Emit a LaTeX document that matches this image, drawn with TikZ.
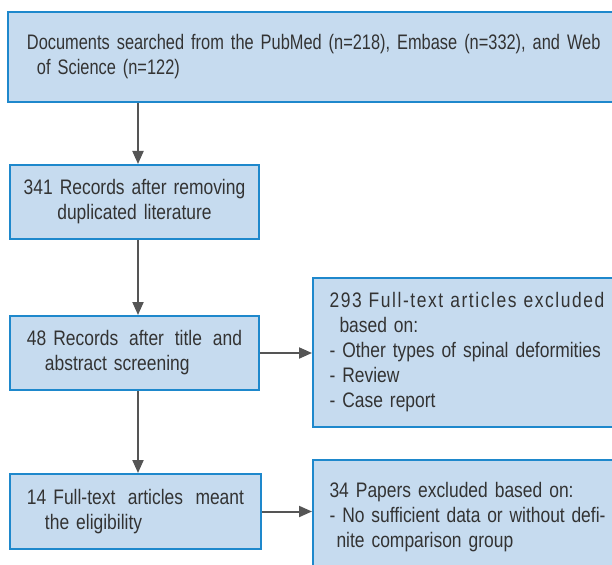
\documentclass[tikz,border=0pt]{standalone}
\usepackage{fontspec}
\setmainfont[FakeStretch=0.83]{Liberation Sans}
\newfontfamily\topfont[FakeStretch=0.78]{Liberation Sans}
\newfontfamily\spacedfont[FakeStretch=0.83,LetterSpace=7.5]{Liberation Sans}
\usetikzlibrary{arrows.meta}
\definecolor{boxfill}{HTML}{C6DBEF}
\definecolor{boxline}{HTML}{1E88CC}
\definecolor{arrcol}{HTML}{555555}
\definecolor{txt}{HTML}{333333}
\newcommand{\fullline}[2]{\leavevmode\hbox to #1{#2}}
\begin{document}
\begin{tikzpicture}[x=1bp,y=-1bp,
  box/.style={draw=boxline, fill=boxfill, line width=2bp, rectangle, text=txt,
    font=\fontsize{21bp}{25bp}\selectfont, inner ysep=0pt},
  arr/.style={draw=arrcol, line width=2bp, -{Triangle[length=13bp,width=11bp]}}]
\useasboundingbox (0,0) rectangle (612,565);
\clip (0,0) rectangle (612,565);
\node[box, minimum width=632bp, minimum height=90bp, text width=594bp, inner xsep=19bp, align=left,
  font=\fontsize{21bp}{25bp}\topfont] (top) at (324,57)
  {Documents searched from the PubMed (n=218), Embase (n=332), and Web\\\hspace*{10bp}of Science (n=122)};
\node[box, minimum width=249bp, minimum height=74bp, text width=231bp, inner xsep=9bp, align=center] (b2) at (134.5,202)
  {341 Records after removing\\duplicated literature};
\node[box, minimum width=249bp, minimum height=74bp, text width=215bp, inner xsep=17bp, align=left] (b3) at (134.5,353)
  {\fullline{215bp}{48 Records\hfill after\hfill title\hfill and}\\\hspace*{18bp}abstract screening};
\node[box, minimum width=251bp, minimum height=75bp, text width=217bp, inner xsep=17bp, align=left] (b4) at (135.5,511.5)
  {\fullline{217bp}{14 Full-text\hfill articles\hfill meant}\\\hspace*{18bp}the eligibility};
\node[box, minimum width=327bp, minimum height=149bp, text width=294bp, inner xsep=16.5bp, align=left] (r1) at (476.5,352.5)
  {{\spacedfont 293 Full-text articles excluded}\\\hspace*{10bp}based on:\\- Other types of spinal deformities\\- Review\\- Case report};
\node[box, minimum width=327bp, minimum height=114bp, text width=294bp, inner xsep=16.5bp, align=left] (r2) at (476.5,517)
  {34 Papers excluded based on:\\\fullline{276bp}{- No\hfill sufficient\hfill data\hfill or\hfill without\hfill defi-}\\\hspace*{7bp}nite comparison group};
\coordinate (ax) at (138,0);
\draw[arr] (top.south -| ax) -- (b2.north -| ax);
\draw[arr] (b2.south -| ax) -- (b3.north -| ax);
\draw[arr] (b3.south -| ax) -- (b4.north -| ax);
\draw[arr] (b3.east) -- (b3.east -| r1.west);
\draw[arr] (b4.east) -- (b4.east -| r2.west);
\end{tikzpicture}
\end{document}
